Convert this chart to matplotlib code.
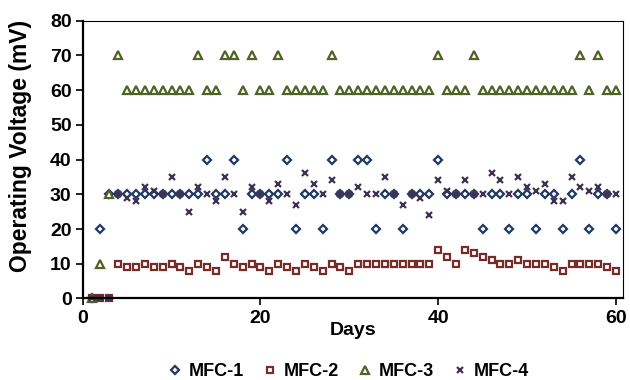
import matplotlib
matplotlib.use("Agg")
import matplotlib.pyplot as plt

days = list(range(1, 61))

mfc1 = [0, 20, 30, 30, 30, 30, 30, 30, 30, 30,
        30, 30, 30, 40, 30, 30, 40, 20, 30, 30,
        30, 30, 40, 20, 30, 30, 20, 40, 30, 30,
        40, 40, 20, 30, 30, 20, 30, 30, 30, 40,
        30, 30, 30, 30, 20, 30, 30, 20, 30, 30,
        20, 30, 30, 20, 30, 40, 20, 30, 30, 20]

mfc2 = [0, 0, 0, 10, 9, 9, 10, 9, 9, 10,
        9, 8, 10, 9, 8, 12, 10, 9, 10, 9,
        8, 10, 9, 8, 10, 9, 8, 10, 9, 8,
        10, 10, 10, 10, 10, 10, 10, 10, 10, 14,
        12, 10, 14, 13, 12, 11, 10, 10, 11, 10,
        10, 10, 9, 8, 10, 10, 10, 10, 9, 8]

mfc3 = [0, 10, 30, 70, 60, 60, 60, 60, 60, 60,
        60, 60, 70, 60, 60, 70, 70, 60, 70, 60,
        60, 70, 60, 60, 60, 60, 60, 70, 60, 60,
        60, 60, 60, 60, 60, 60, 60, 60, 60, 70,
        60, 60, 60, 70, 60, 60, 60, 60, 60, 60,
        60, 60, 60, 60, 60, 70, 60, 70, 60, 60]

mfc4 = [0, 0, 0, 30, 29, 28, 32, 31, 30, 35,
        30, 25, 32, 30, 28, 35, 30, 25, 32, 30,
        28, 33, 30, 27, 36, 33, 30, 34, 30, 30,
        32, 30, 30, 35, 30, 27, 30, 29, 24, 34,
        31, 30, 34, 30, 30, 36, 34, 30, 35, 32,
        31, 33, 28, 28, 35, 32, 31, 32, 30, 30]

x_ticks = [0, 20, 40, 60]
y_ticks = [0, 10, 20, 30, 40, 50, 60, 70, 80]

plt.rcParams["font.family"] = ["Liberation Sans", "DejaVu Sans"]
plt.rcParams["font.weight"] = "bold"

fig = plt.figure(figsize=(6.3, 3.8), dpi=100)
ax = fig.add_axes([0.1313, 0.2145, 0.8577, 0.731])

style = dict(linestyle="none", markeredgewidth=1.6, clip_on=False)
ax.plot(days, mfc1, marker="D", markersize=4.4, markerfacecolor="white",
        markeredgecolor="#1f3864", label="MFC-1", **style)
ax.plot(days, mfc2, marker="s", markersize=4.8, markerfacecolor="white",
        markeredgecolor="#772c2a", label="MFC-2", **style)
ax.plot(days, mfc3, marker="^", markersize=5.2, markerfacecolor="white",
        markeredgecolor="#4f6228", label="MFC-3", **style)
ax.plot(days, mfc4, marker="x", markersize=4.5, markeredgecolor="#403152",
        label="MFC-4", **style)

ax.set_xlim(0, 60.8)
ax.set_ylim(0, 80)
ax.set_xticks(x_ticks)
ax.set_yticks(y_ticks)
ax.tick_params(direction="out", length=5, width=1.2, labelsize=14, pad=3)
for lbl in ax.get_xticklabels() + ax.get_yticklabels():
    lbl.set_fontweight("bold")

for side in ["left", "bottom"]:
    ax.spines[side].set_linewidth(1.6)
for side in ["top", "right"]:
    ax.spines[side].set_linewidth(0.8)

ax.set_xlabel("Days", fontsize=14, fontweight="bold")
ax.xaxis.set_label_coords(0.5, -0.085)
ax.set_ylabel("Operating Voltage (mV)", fontsize=16.5, fontweight="bold")
ax.yaxis.set_label_coords(-0.093, 0.55)

ax.legend(loc="upper center", bbox_to_anchor=(0.49, -0.175), ncol=4,
          frameon=False, handletextpad=0.3, columnspacing=0.9,
          handlelength=1.0, prop={"weight": "bold", "size": 13})

fig.savefig("out.png", dpi=100)
